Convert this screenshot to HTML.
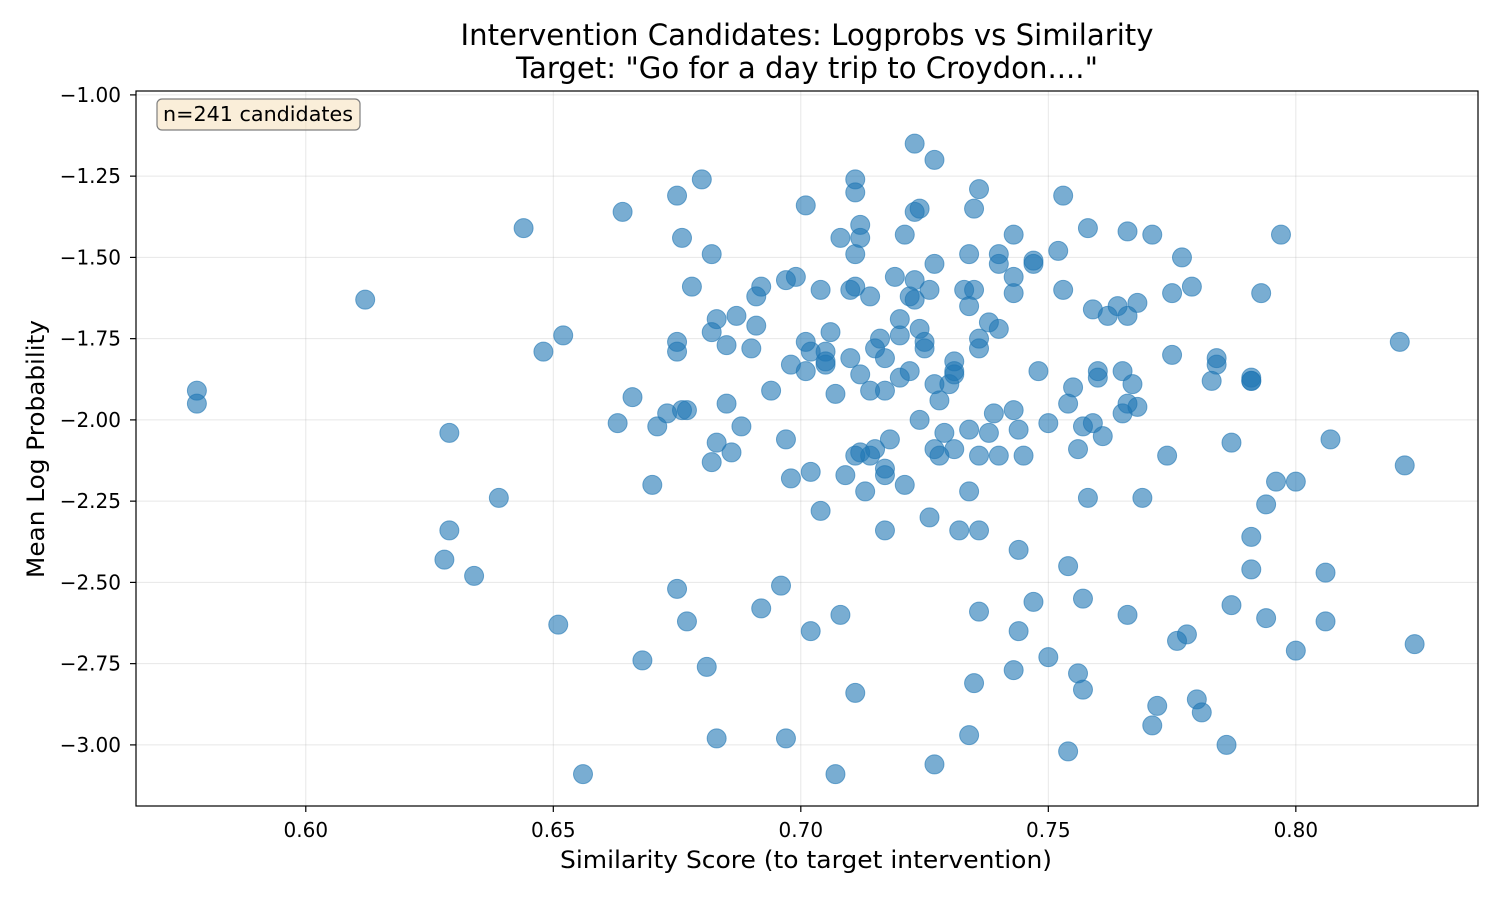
<!DOCTYPE html>
<html><head><meta charset="utf-8">
<style>
body{margin:0;background:#fff;}
svg{display:block;font-family:"DejaVu Sans","Liberation Sans",sans-serif;}
</style></head>
<body>
<svg id="chart" width="1500" height="900" style="position:absolute;left:0;top:0"></svg>
<script>
const simX=[0.578,0.578,0.612,0.629,0.629,0.628,0.634,0.639,0.644,0.648,0.652,0.651,0.656,0.663,0.666,0.664,0.668,0.671,0.670,0.673,0.676,0.677,0.675,0.676,0.675,0.675,0.678,0.675,0.677,0.681,0.680,0.682,0.683,0.682,0.683,0.682,0.683,0.685,0.685,0.686,0.687,0.688,0.690,0.691,0.692,0.691,0.692,0.694,0.696,0.697,0.697,0.697,0.699,0.698,0.698,0.701,0.701,0.702,0.701,0.702,0.704,0.704,0.705,0.705,0.706,0.705,0.708,0.702,0.707,0.707,0.708,0.709,0.710,0.711,0.710,0.711,0.712,0.712,0.712,0.711,0.711,0.712,0.711,0.711,0.713,0.714,0.714,0.714,0.715,0.715,0.716,0.717,0.717,0.717,0.717,0.717,0.718,0.719,0.720,0.720,0.720,0.721,0.722,0.721,0.722,0.723,0.723,0.723,0.723,0.724,0.724,0.724,0.725,0.725,0.726,0.726,0.727,0.727,0.727,0.727,0.728,0.728,0.729,0.727,0.730,0.731,0.731,0.731,0.731,0.732,0.733,0.734,0.734,0.734,0.734,0.734,0.735,0.735,0.736,0.736,0.736,0.736,0.736,0.736,0.735,0.738,0.738,0.739,0.740,0.740,0.740,0.740,0.743,0.743,0.743,0.743,0.743,0.744,0.744,0.744,0.745,0.747,0.747,0.747,0.748,0.750,0.750,0.752,0.753,0.753,0.754,0.755,0.756,0.754,0.754,0.757,0.758,0.758,0.759,0.759,0.760,0.760,0.761,0.757,0.756,0.757,0.762,0.764,0.765,0.765,0.766,0.766,0.766,0.767,0.768,0.768,0.769,0.766,0.771,0.771,0.772,0.774,0.775,0.775,0.776,0.777,0.778,0.779,0.780,0.781,0.783,0.784,0.784,0.786,0.787,0.787,0.791,0.791,0.791,0.791,0.791,0.793,0.794,0.794,0.796,0.797,0.800,0.800,0.806,0.806,0.807,0.821,0.822,0.824];
const logprobY=[-1.91,-1.95,-1.63,-2.04,-2.34,-2.43,-2.48,-2.24,-1.41,-1.79,-1.74,-2.63,-3.09,-2.01,-1.93,-1.36,-2.74,-2.02,-2.20,-1.98,-1.97,-1.97,-1.31,-1.44,-1.76,-1.79,-1.59,-2.52,-2.62,-2.76,-1.26,-1.49,-1.69,-1.73,-2.07,-2.13,-2.98,-1.77,-1.95,-2.10,-1.68,-2.02,-1.78,-1.62,-1.59,-1.71,-2.58,-1.91,-2.51,-2.98,-2.06,-1.57,-1.56,-1.83,-2.18,-1.34,-1.76,-1.79,-1.85,-2.16,-1.60,-2.28,-1.82,-1.79,-1.73,-1.83,-2.60,-2.65,-3.09,-1.92,-1.44,-2.17,-1.60,-1.59,-1.81,-1.49,-1.86,-1.44,-1.40,-1.26,-1.30,-2.10,-2.11,-2.84,-2.22,-1.62,-1.91,-2.11,-2.09,-1.78,-1.75,-1.91,-1.81,-2.15,-2.17,-2.34,-2.06,-1.56,-1.69,-1.87,-1.74,-2.20,-1.85,-1.43,-1.62,-1.63,-1.57,-1.36,-1.15,-1.35,-1.72,-2.00,-1.76,-1.78,-2.30,-1.60,-1.89,-2.09,-1.52,-1.20,-1.94,-2.11,-2.04,-3.06,-1.89,-1.86,-1.85,-1.82,-2.09,-2.34,-1.60,-2.03,-1.65,-2.22,-2.97,-1.49,-1.60,-1.35,-1.75,-1.78,-1.29,-2.11,-2.34,-2.59,-2.81,-1.70,-2.04,-1.98,-2.11,-1.49,-1.52,-1.72,-2.77,-1.43,-1.61,-1.56,-1.97,-2.03,-2.40,-2.65,-2.11,-1.52,-1.51,-2.56,-1.85,-2.01,-2.73,-1.48,-1.31,-1.60,-1.95,-1.90,-2.09,-2.45,-3.02,-2.02,-1.41,-2.24,-1.66,-2.01,-1.85,-1.87,-2.05,-2.55,-2.78,-2.83,-1.68,-1.65,-1.98,-1.85,-1.42,-1.68,-1.95,-1.89,-1.96,-1.64,-2.24,-2.60,-1.43,-2.94,-2.88,-2.11,-1.80,-1.61,-2.68,-1.50,-2.66,-1.59,-2.86,-2.90,-1.88,-1.81,-1.83,-3.00,-2.07,-2.57,-1.88,-1.87,-1.88,-2.36,-2.46,-1.61,-2.61,-2.26,-2.19,-1.43,-2.71,-2.19,-2.47,-2.62,-2.06,-1.76,-2.14,-2.69];
const xTicks=[0.60,0.65,0.70,0.75,0.80];
const xTickLabels=["0.60","0.65","0.70","0.75","0.80"];
const yTicks=[-1.00,-1.25,-1.50,-1.75,-2.00,-2.25,-2.50,-2.75,-3.00];
const yTickLabels=["\u22121.00","\u22121.25","\u22121.50","\u22121.75","\u22122.00","\u22122.25","\u22122.50","\u22122.75","\u22123.00"];

const L=136,R=1478,T=91,B=806;
const xMin=0.5657,xMax=0.8368,yMin=-3.188,yMax=-0.988;
const sx=v=>L+(v-xMin)/(xMax-xMin)*(R-L);
const sy=v=>B-(v-yMin)/(yMax-yMin)*(B-T);
const svg=document.getElementById('chart');
const NS='http://www.w3.org/2000/svg';
function mk(tag,attrs,txt){const e=document.createElementNS(NS,tag);for(const k in attrs)e.setAttribute(k,attrs[k]);if(txt!==undefined)e.textContent=txt;svg.appendChild(e);return e;}

xTicks.forEach((v,i)=>{
  const x=sx(v);
  const g=mk('line',{x1:x,x2:x,y1:T,y2:B,stroke:'#b0b0b0','stroke-opacity':0.3,'stroke-width':1});
  
  
  const t=mk('line',{x1:x,x2:x,y1:B,y2:B+6,stroke:'#000','stroke-width':1.2});
  
  
  const l=mk('text',{x:x,y:B+31,'text-anchor':'middle',style:'font-size:20px',fill:'#000'},xTickLabels[i]);
  
  
});
yTicks.forEach((v,i)=>{
  const y=sy(v);
  const g=mk('line',{x1:L,x2:R,y1:y,y2:y,stroke:'#b0b0b0','stroke-opacity':0.3,'stroke-width':1});
  
  
  const t=mk('line',{x1:L-6,x2:L,y1:y,y2:y,stroke:'#000','stroke-width':1.2});
  
  
  const l=mk('text',{x:L-15,y:y+7,'text-anchor':'end',style:'font-size:20px',fill:'#000'},yTickLabels[i]);
  
  
});

for(let i=0;i<simX.length;i++){
  const c=mk('circle',{cx:sx(simX[i]),cy:sy(logprobY[i]),r:9.5,fill:'#1f77b4','fill-opacity':0.6,stroke:'#1f77b4','stroke-opacity':0.6,'stroke-width':1});
  
  
}

const fr=mk('rect',{x:L,y:T,width:R-L,height:B-T,fill:'none',stroke:'#000','stroke-width':1.2});


</script>
<svg style="position:absolute;left:0;top:0" width="1500" height="900">
  <g>
    <text x="807" y="45" text-anchor="middle" style="font-size:29px" textLength="693" lengthAdjust="spacingAndGlyphs">Intervention Candidates: Logprobs vs Similarity</text>
    <text x="807" y="78" text-anchor="middle" style="font-size:29px" textLength="582" lengthAdjust="spacingAndGlyphs">Target: "Go for a day trip to Croydon...."</text>
    <text x="806" y="868" text-anchor="middle" style="font-size:24px" textLength="492" lengthAdjust="spacingAndGlyphs">Similarity Score (to target intervention)</text>
    <text transform="translate(44,449) rotate(-90)" text-anchor="middle" style="font-size:24px" textLength="258" lengthAdjust="spacingAndGlyphs">Mean Log Probability</text>
    <rect x="157" y="99" width="203" height="31" rx="5" fill="#f5deb3" fill-opacity="0.5" stroke="#7f7f7f" stroke-width="1.2"/>
    <text x="163" y="121" style="font-size:20.5px" textLength="190" lengthAdjust="spacingAndGlyphs">n=241 candidates</text>
  </g>
</svg>
</body></html>
